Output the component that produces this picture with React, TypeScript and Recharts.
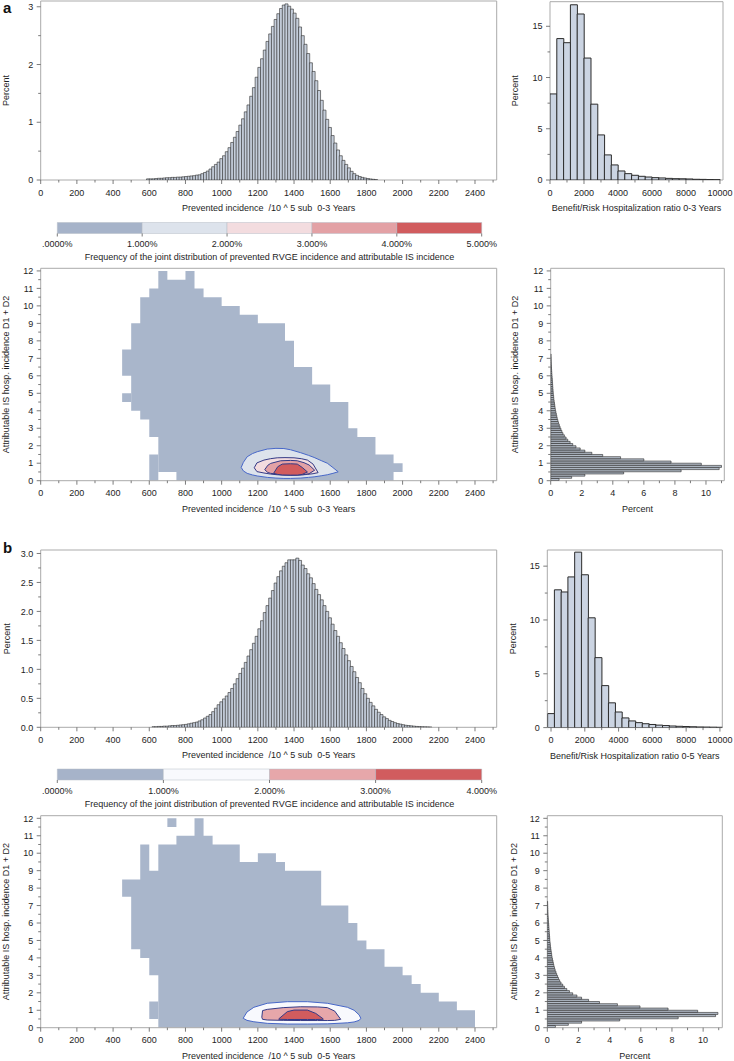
import React from 'react';
import { BarChart, Bar, ComposedChart, Area, XAxis, YAxis, ReferenceArea } from 'recharts';

const FONT = '"Liberation Sans", Arial, Helvetica, sans-serif';
const TXT: any = { fontFamily: FONT, fontSize: 9, fill: '#1e1e1e' };
const TICK_C = '#5a5a5a';
const FRAME_C = '#ababab';

// ---------------- DATA ----------------
// Prevented incidence histograms (bin width 15)
const INC_BIN = 15;
const INC_A_START = 585;
const INC_A_VALUES = [
  0.02, 0.02, 0.02, 0.025, 0.03, 0.03, 0.035, 0.04, 0.04, 0.045,
  0.045, 0.05, 0.05, 0.055, 0.06, 0.065, 0.07, 0.075, 0.085, 0.09,
  0.11, 0.13, 0.155, 0.19, 0.23, 0.27, 0.31, 0.37, 0.42, 0.49,
  0.56, 0.65, 0.74, 0.84, 0.95, 1.06, 1.18, 1.30, 1.45, 1.60,
  1.78, 1.95, 2.10, 2.25, 2.40, 2.53, 2.66, 2.78, 2.88, 2.97,
  3.03, 3.05, 3.01, 2.96, 2.89, 2.80, 2.65, 2.50, 2.35, 2.19,
  2.03, 1.88, 1.72, 1.55, 1.38, 1.21, 1.05, 0.91, 0.77, 0.64,
  0.52, 0.42, 0.34, 0.27, 0.21, 0.15, 0.11, 0.08, 0.06, 0.045,
  0.035, 0.025, 0.018, 0.012, 0.006,
];
const INC_B_START = 615;
const INC_B_VALUES = [
  0.01, 0.01, 0.015, 0.015, 0.02, 0.02, 0.025, 0.03, 0.03, 0.035,
  0.04, 0.045, 0.05, 0.06, 0.07, 0.08, 0.09, 0.11, 0.13, 0.16,
  0.19, 0.22, 0.27, 0.33, 0.39, 0.44, 0.49, 0.54, 0.6, 0.67,
  0.75, 0.84, 0.93, 1.02, 1.12, 1.23, 1.34, 1.45, 1.57, 1.7,
  1.84, 1.98, 2.1, 2.23, 2.36, 2.49, 2.6, 2.7, 2.78, 2.84,
  2.89, 2.89, 2.89, 2.92, 2.88, 2.8, 2.74, 2.65, 2.58, 2.48,
  2.38, 2.29, 2.2, 2.1, 2.0, 1.89, 1.78, 1.67, 1.57, 1.46,
  1.36, 1.25, 1.15, 1.05, 0.96, 0.86, 0.77, 0.67, 0.58, 0.5,
  0.43, 0.37, 0.31, 0.26, 0.22, 0.18, 0.15, 0.12, 0.1, 0.08,
  0.065, 0.055, 0.045, 0.035, 0.03, 0.025, 0.02, 0.015, 0.012, 0.01,
  0.008, 0.006, 0.004,
];

// Benefit/Risk ratio histograms (bin width 400)
const BR_BIN = 400;
const BR_A_FIRST_CENTER = 200;
const BR_A_VALUES = [8.4, 13.8, 13.4, 17.1, 16.2, 11.9, 7.4, 4.4, 2.45, 1.47, 0.88, 0.62, 0.46, 0.36, 0.29, 0.23, 0.2, 0.16, 0.13, 0.12, 0.1, 0.07, 0.06, 0.04, 0.03];
const BR_B_FIRST_CENTER = 0;
const BR_B_VALUES = [1.3, 12.8, 12.6, 14.0, 16.3, 14.2, 10.2, 6.5, 3.9, 2.3, 1.45, 0.9, 0.62, 0.46, 0.36, 0.29, 0.23, 0.19, 0.15, 0.12, 0.1, 0.08, 0.06, 0.05, 0.04, 0.03];

// Attributable IS incidence histograms (bin width 0.125)
const IS_BIN = 0.125;
const IS_A_VALUES = [
  0.54, 1.35, 2.2, 4.7, 8.4, 10.85, 11.0, 9.7, 7.75, 6.0,
  4.5, 3.35, 2.65, 2.2, 1.9, 1.63, 1.42, 1.25, 1.1, 0.99,
  0.88, 0.79, 0.72, 0.66, 0.6, 0.55, 0.5, 0.46, 0.42, 0.39,
  0.36, 0.33, 0.3, 0.28, 0.26, 0.24, 0.22, 0.2, 0.19, 0.17,
  0.16, 0.15, 0.14, 0.13, 0.12, 0.11, 0.1, 0.09, 0.08, 0.07,
  0.06, 0.05, 0.045, 0.04, 0.035, 0.03, 0.025, 0.02,
];
const IS_B_VALUES = [
  0.52, 1.35, 2.2, 4.65, 8.4, 10.8, 10.95, 9.65, 7.75, 5.95,
  4.5, 3.35, 2.65, 2.2, 1.9, 1.63, 1.42, 1.25, 1.1, 0.99,
  0.88, 0.79, 0.72, 0.66, 0.6, 0.55, 0.5, 0.46, 0.42, 0.39,
  0.36, 0.33, 0.3, 0.28, 0.26, 0.24, 0.22, 0.2, 0.19, 0.17,
  0.16, 0.15, 0.14, 0.13, 0.12, 0.11, 0.1, 0.09, 0.08, 0.07,
  0.06, 0.05, 0.045, 0.04, 0.035, 0.03, 0.025, 0.02,
];

// Joint-distribution support (columns of width 50 starting at 450), two vertical segments per column
const HEAT_BIN = 50;
const HEAT_START = 450;
const HEAT_A_LO1 = [6, 4, 3.5, 2.5, 0.5, 0.5, 0, 0, 0, 0, 0, 0, 0, 0, 0, 0, 0, 0, 0, 0, 0, 0, 0, 0, 0, 0, 0, 0, 0, 0, 0.5];
const HEAT_A_HI1 = [7.5, 9, 10.5, 11, 12, 11.5, 11.5, 12, 11, 10.5, 10.5, 10, 10, 9.5, 9.5, 9, 9, 9, 8, 6.5, 6.5, 5.5, 5.5, 4.5, 4.5, 3, 2.5, 2.5, 1.5, 1.5, 1];
const HEAT_A_LO2 = [4.5, null, null, 0, null, null, null, null, null, null, null, null, null, null, null, null, null, null, null, null, null, null, null, null, null, null, null, null, null, null, null];
const HEAT_A_HI2 = [5, null, null, 1.5, null, null, null, null, null, null, null, null, null, null, null, null, null, null, null, null, null, null, null, null, null, null, null, null, null, null, null];

const HEAT_B_LO1 = [7.5, 4.5, 4, 3, 0, 0, 0, 0, 0, 0, 0, 0, 0, 0, 0, 0, 0, 0, 0, 0, 0, 0, 0, 0, 0, 0, 0, 0, 0, 0, 0, 0, 0, 0, 0, 0, 0, 0, 0];
const HEAT_B_HI1 = [8.5, 8.5, 10.5, 9, 10.5, 10.5, 11, 11, 12, 11, 10.5, 10.5, 10.5, 9.5, 9.5, 10, 10, 9.5, 9, 9, 9, 9, 7, 7, 7, 6, 5, 4.5, 4.5, 3.5, 3.5, 3, 2.5, 2, 2, 1.5, 1.5, 1, 1];
const HEAT_B_LO2 = [null, null, null, 0.5, null, 11.5, null, null, null, null, null, null, null, null, null, null, null, null, null, null, null, null, null, null, null, null, null, null, null, null, null, null, null, null, null, null, null, null, null];
const HEAT_B_HI2 = [null, null, null, 1.5, null, 12, null, null, null, null, null, null, null, null, null, null, null, null, null, null, null, null, null, null, null, null, null, null, null, null, null, null, null, null, null, null, null, null, null];

// Contour levels (x, lower edge, upper edge)
const CA1_X = [1108, 1120, 1141, 1170, 1197, 1252, 1300, 1344, 1381, 1437, 1480, 1511, 1550, 1584, 1615, 1644];
const CA1_LO = [0.76, 0.56, 0.42, 0.33, 0.27, 0.19, 0.15, 0.13, 0.13, 0.15, 0.19, 0.22, 0.28, 0.34, 0.42, 0.51];
const CA1_HI = [0.76, 1.05, 1.37, 1.55, 1.66, 1.81, 1.85, 1.84, 1.77, 1.6, 1.45, 1.33, 1.15, 1.0, 0.75, 0.51];
const CA2_X = [1180, 1195, 1234, 1270, 1307, 1350, 1400, 1440, 1474, 1505, 1533];
const CA2_LO = [0.74, 0.52, 0.44, 0.38, 0.34, 0.32, 0.32, 0.33, 0.36, 0.4, 0.46];
const CA2_HI = [0.74, 1.02, 1.18, 1.26, 1.31, 1.32, 1.31, 1.26, 1.18, 0.95, 0.46];
const CA3_X = [1238, 1255, 1271, 1326, 1381, 1418, 1455, 1483, 1514];
const CA3_LO = [0.63, 0.47, 0.42, 0.35, 0.32, 0.33, 0.35, 0.4, 0.6];
const CA3_HI = [0.63, 0.88, 0.99, 1.14, 1.16, 1.14, 1.03, 0.9, 0.6];
const CA4_X = [1287, 1310, 1335, 1380, 1418, 1445, 1474];
const CA4_LO = [0.42, 0.36, 0.33, 0.32, 0.32, 0.36, 0.5];
const CA4_HI = [0.42, 0.8, 0.95, 0.97, 0.95, 0.76, 0.5];

const CB1_X = [1119, 1140, 1178, 1252, 1363, 1474, 1584, 1695, 1732, 1760, 1769];
const CB1_LO = [0.54, 0.42, 0.34, 0.25, 0.21, 0.21, 0.22, 0.28, 0.33, 0.42, 0.54];
const CB1_HI = [0.54, 0.9, 1.17, 1.4, 1.49, 1.49, 1.4, 1.17, 1.0, 0.73, 0.54];
const CB2_X = [1222, 1226, 1252, 1340, 1437, 1530, 1584, 1625, 1658];
const CB2_LO = [0.6, 0.48, 0.44, 0.42, 0.41, 0.41, 0.41, 0.42, 0.48];
const CB2_HI = [0.6, 0.98, 1.05, 1.15, 1.2, 1.19, 1.15, 0.95, 0.48];
const CB3_X = [1315, 1363, 1400, 1474, 1520, 1562];
const CB3_LO = [0.48, 0.47, 0.47, 0.47, 0.47, 0.48];
const CB3_HI = [0.5, 0.92, 1.01, 1.01, 0.82, 0.5];

// Colour legends
const LEG_A_BOUNDS = [0, 1, 2, 3, 4, 5];
const LEG_A_LABELS = ['.0000%', '1.000%', '2.000%', '3.000%', '4.000%', '5.000%'];
const LEG_A_COLORS = ['#a6b3c9', '#dde3ec', '#f3dcdf', '#e3a1a5', '#d15c5e'];
const LEG_B_BOUNDS = [0, 1, 2, 3, 4];
const LEG_B_LABELS = ['.0000%', '1.000%', '2.000%', '3.000%', '4.000%'];
const LEG_B_COLORS = ['#a6b3c9', '#f8f9fd', '#e6a7aa', '#d15c5e'];

const HEAT_FILL = '#a9b6cb';
const OUTER_LINE = '#4767c8';
const INNER_LINE = '#343a86';

const TITLE_INC_A = 'Prevented incidence  /10 ^ 5 sub  0-3 Years';
const TITLE_INC_B = 'Prevented incidence  /10 ^ 5 sub  0-5 Years';
const TITLE_BR_A = 'Benefit/Risk Hospitalization ratio 0-3 Years';
const TITLE_BR_B = 'Benefit/Risk Hospitalization ratio 0-5 Years';
const TITLE_FREQ = 'Frequency of the joint distribution of prevented RVGE incidence and attributable IS incidence';
const TITLE_IS = 'Attributable IS hosp. incidence D1 + D2';
const TITLE_PCT = 'Percent';

// ---------------- HELPERS ----------------
const seq = (a: number, b: number, s: number) => {
  const out: number[] = [];
  for (let i = 0; a + i * s <= b + 1e-9; i++) out.push(Math.round((a + i * s) * 1e6) / 1e6);
  return out;
};
const isMult = (v: number, step: number) => Math.abs(v / step - Math.round(v / step)) < 1e-6;

const histRows = (start: number, width: number, values: number[]) =>
  values.map((v, i) => ({ x: start + width * (i + 0.5), y: v }));
const centerRows = (first: number, width: number, values: number[]) =>
  values.map((v, i) => ({ x: first + width * i, y: v }));

const stepRows = (lo: (number | null)[], hi: (number | null)[]) => {
  const rows: any[] = [];
  for (let i = 0; i < lo.length; i++) {
    const s = HEAT_START + HEAT_BIN * i;
    const def = lo[i] != null && hi[i] != null;
    rows.push({ x: s, v: def ? [lo[i], hi[i]] : null });
    const nextDef = i + 1 < lo.length && lo[i + 1] != null;
    if (def && !nextDef) rows.push({ x: s + HEAT_BIN, v: [lo[i], hi[i]] });
  }
  return rows;
};
const contourRows = (xs: number[], lo: number[], hi: number[]) => xs.map((x, i) => ({ x, v: [lo[i], hi[i]] }));

const bottomTick = (step: number, fmt: (v: number) => string = (v) => String(v)) => (p: any) => {
  const v = Number(p.payload.value);
  const major = isMult(v, step);
  return (
    <g>
      <line x1={p.x} x2={p.x} y1={p.y} y2={p.y + (major ? 4 : 2.5)} stroke={TICK_C} strokeWidth={0.8} />
      {major && (
        <text x={p.x} y={p.y + 15.5} textAnchor="middle" {...TXT}>
          {fmt(v)}
        </text>
      )}
    </g>
  );
};
const leftTick = (step: number, fmt: (v: number) => string = (v) => String(v)) => (p: any) => {
  const v = Number(p.payload.value);
  const major = isMult(v, step);
  return (
    <g>
      <line x1={p.x - (major ? 4 : 2.5)} x2={p.x} y1={p.y} y2={p.y} stroke={TICK_C} strokeWidth={0.8} />
      {major && (
        <text x={p.x - 7.5} y={p.y + 3.2} textAnchor="end" {...TXT}>
          {fmt(v)}
        </text>
      )}
    </g>
  );
};
const legendTick = (labels: string[]) => (p: any) => {
  const i = Math.round(Number(p.payload.value));
  return (
    <g>
      <line x1={p.x} x2={p.x} y1={p.y} y2={p.y + 3} stroke={TICK_C} strokeWidth={0.8} />
      <text x={p.x} y={p.y + 13.5} textAnchor="middle" {...TXT}>
        {labels[i]}
      </text>
    </g>
  );
};
const xTitle = (text: string, dy: number) => (p: any) => {
  const vb = p.viewBox || {};
  return (
    <text x={(vb.x ?? 0) + (vb.width ?? 0) / 2} y={(vb.y ?? 0) + dy} textAnchor="middle" {...TXT} style={{ whiteSpace: 'pre' }}>
      {text}
    </text>
  );
};
const yTitle = (text: string, cx: number) => (p: any) => {
  const vb = p.viewBox || {};
  const cy = (vb.y ?? 0) + (vb.height ?? 0) / 2;
  return (
    <text transform={`translate(${cx},${cy}) rotate(-90)`} textAnchor="middle" dominantBaseline="central" {...TXT}>
      {text}
    </text>
  );
};

type Box = { left: number; top: number; width: number; height: number; mt: number; mr: number; ml?: number; yW: number; xH: number };
const boxStyle = (b: Box): React.CSSProperties => ({ position: 'absolute', left: b.left, top: b.top, width: b.width, height: b.height });

// ---------------- LAYOUT ----------------
const INC_DOMAIN = [0, 2520];
const HEAT_Y_DOMAIN = [0, 12.15];
const A1: Box = { left: 0, top: 0, width: 500, height: 215, mt: 1, mr: 3.3, yW: 40.7, xH: 35 };
const A2: Box = { left: 490, top: 0, width: 244, height: 215, mt: 1.7, mr: 11, yW: 60, xH: 35 };
const LA: Box = { left: 0, top: 214, width: 500, height: 50, mt: 8.5, mr: 18.3, ml: 57.3, yW: 0, xH: 30.5 };
const A4: Box = { left: 0, top: 262, width: 500, height: 262, mt: 6.3, mr: 3.3, yW: 40.7, xH: 43.3 };
const A5: Box = { left: 490, top: 262, width: 244, height: 262, mt: 6.3, mr: 9.7, yW: 60.7, xH: 43.3 };
const B1: Box = { left: 0, top: 540, width: 500, height: 225, mt: 10, mr: 3.3, yW: 40.7, xH: 37.7 };
const B2: Box = { left: 490, top: 540, width: 244, height: 225, mt: 10, mr: 11.7, yW: 57.3, xH: 37.4 };
const LB: Box = { left: 0, top: 760, width: 500, height: 50, mt: 9, mr: 18.3, ml: 57.3, yW: 0, xH: 30 };
const B4: Box = { left: 0, top: 810, width: 500, height: 251, mt: 5.7, mr: 3.3, yW: 40.7, xH: 33.3 };
const B5: Box = { left: 490, top: 810, width: 244, height: 251, mt: 5.7, mr: 11.7, yW: 57.3, xH: 33.3 };

// ---------------- CHARTS ----------------
function VHist(props: {
  box: Box; rows: any[]; xDomain: number[]; yDomain: number[]; xTicks: number[]; xStep: number;
  yTicks: number[]; yStep: number; yFmt?: (v: number) => string; xTitleText: string; yTitleX: number; strokeW: number; fill: string;
}) {
  const b = props.box;
  return (
    <div style={boxStyle(b)}>
      <BarChart width={b.width} height={b.height} data={props.rows} margin={{ top: b.mt, right: b.mr, left: 0, bottom: 0 }} barCategoryGap={0} barGap={0}>
        <XAxis type="number" dataKey="x" domain={props.xDomain} allowDataOverflow ticks={props.xTicks} interval={0}
          height={b.xH} axisLine={false} tickLine={false} tickSize={0} tickMargin={0}
          tick={bottomTick(props.xStep)} label={xTitle(props.xTitleText, 31)} />
        <YAxis type="number" domain={props.yDomain} allowDataOverflow ticks={props.yTicks} interval={0}
          width={b.yW} axisLine={false} tickLine={false} tickSize={0} tickMargin={0}
          tick={leftTick(props.yStep, props.yFmt)} label={yTitle(TITLE_PCT, props.yTitleX)} />
        <Bar dataKey="y" fill={props.fill} stroke="#2b2b2b" strokeWidth={props.strokeW} isAnimationActive={false} />
        <ReferenceArea x1={props.xDomain[0]} x2={props.xDomain[1]} y1={props.yDomain[0]} y2={props.yDomain[1]} fill="none" stroke={FRAME_C} strokeWidth={1} ifOverflow="visible" />
      </BarChart>
    </div>
  );
}

function HHist(props: { box: Box; values: number[]; xDomain: number[]; yTitleX: number }) {
  const b = props.box;
  const rows = props.values.map((v, i) => ({ y: IS_BIN * (i + 0.5), p: v }));
  return (
    <div style={boxStyle(b)}>
      <BarChart layout="vertical" width={b.width} height={b.height} data={rows} margin={{ top: b.mt, right: b.mr, left: 0, bottom: 0 }} barCategoryGap={0} barGap={0}>
        <XAxis type="number" domain={props.xDomain} allowDataOverflow ticks={seq(0, 11, 1)} interval={0}
          height={b.xH} axisLine={false} tickLine={false} tickSize={0} tickMargin={0}
          tick={bottomTick(2)} label={xTitle(TITLE_PCT, 31.5)} />
        <YAxis type="number" dataKey="y" reversed domain={HEAT_Y_DOMAIN} allowDataOverflow ticks={seq(0, 12, 0.5)} interval={0}
          width={b.yW} axisLine={false} tickLine={false} tickSize={0} tickMargin={0}
          tick={leftTick(1)} label={yTitle(TITLE_IS, props.yTitleX)} />
        <Bar dataKey="p" fill="#b4bdc9" stroke="#262626" strokeWidth={0.6} isAnimationActive={false} />
        <ReferenceArea x1={props.xDomain[0]} x2={props.xDomain[1]} y1={HEAT_Y_DOMAIN[0]} y2={HEAT_Y_DOMAIN[1]} fill="none" stroke={FRAME_C} strokeWidth={1} ifOverflow="visible" />
      </BarChart>
    </div>
  );
}

function ColorBar(props: { box: Box; bounds: number[]; labels: string[]; colors: string[] }) {
  const b = props.box;
  const row: any = { k: 'freq' };
  props.colors.forEach((_, i) => { row['s' + i] = props.bounds[i + 1] - props.bounds[i]; });
  const maxV = props.bounds[props.bounds.length - 1];
  return (
    <div style={boxStyle(b)}>
      <BarChart layout="vertical" width={b.width} height={b.height} data={[row]} margin={{ top: b.mt, right: b.mr, left: b.ml ?? 0, bottom: 0 }} barCategoryGap={0} barGap={0}>
        <XAxis type="number" domain={[0, maxV]} ticks={props.bounds} interval={0} height={b.xH}
          axisLine={false} tickLine={false} tickSize={0} tickMargin={0}
          tick={legendTick(props.labels)} label={xTitle(TITLE_FREQ, 26.5)} />
        <YAxis type="category" dataKey="k" hide />
        {props.colors.map((c, i) => (
          <Bar key={i} dataKey={'s' + i} stackId="lv" fill={c} stroke="#b7bcc6" strokeWidth={0.5} isAnimationActive={false} />
        ))}
      </BarChart>
    </div>
  );
}

function Heat(props: {
  box: Box; seg1: any[]; seg2: any[]; contours: { rows: any[]; fill: string; line: string }[]; xTitleText: string; yTitleX: number;
}) {
  const b = props.box;
  return (
    <div style={boxStyle(b)}>
      <ComposedChart width={b.width} height={b.height} margin={{ top: b.mt, right: b.mr, left: 0, bottom: 0 }}>
        <XAxis type="number" dataKey="x" domain={INC_DOMAIN} allowDataOverflow ticks={seq(0, 2500, 100)} interval={0}
          height={b.xH} axisLine={false} tickLine={false} tickSize={0} tickMargin={0}
          tick={bottomTick(200)} label={xTitle(props.xTitleText, 31.5)} />
        <YAxis type="number" domain={HEAT_Y_DOMAIN} allowDataOverflow ticks={seq(0, 12, 0.5)} interval={0}
          width={b.yW} axisLine={false} tickLine={false} tickSize={0} tickMargin={0}
          tick={leftTick(1)} label={yTitle(TITLE_IS, props.yTitleX)} />
        <Area data={props.seg1} dataKey="v" type="stepAfter" fill={HEAT_FILL} fillOpacity={1} stroke="none" dot={false} activeDot={false} isAnimationActive={false} />
        <Area data={props.seg2} dataKey="v" type="stepAfter" fill={HEAT_FILL} fillOpacity={1} stroke="none" dot={false} activeDot={false} isAnimationActive={false} />
        {props.contours.map((c, i) => (
          <Area key={i} data={c.rows} dataKey="v" type="linear" fill={c.fill} fillOpacity={1} stroke={c.line} strokeWidth={1} dot={false} activeDot={false} isAnimationActive={false} />
        ))}
        <ReferenceArea x1={INC_DOMAIN[0]} x2={INC_DOMAIN[1]} y1={HEAT_Y_DOMAIN[0]} y2={HEAT_Y_DOMAIN[1]} fill="none" stroke={FRAME_C} strokeWidth={1} ifOverflow="visible" />
      </ComposedChart>
    </div>
  );
}

export default function App() {
  const contoursA = [
    { rows: contourRows(CA1_X, CA1_LO, CA1_HI), fill: LEG_A_COLORS[1], line: OUTER_LINE },
    { rows: contourRows(CA2_X, CA2_LO, CA2_HI), fill: LEG_A_COLORS[2], line: INNER_LINE },
    { rows: contourRows(CA3_X, CA3_LO, CA3_HI), fill: LEG_A_COLORS[3], line: INNER_LINE },
    { rows: contourRows(CA4_X, CA4_LO, CA4_HI), fill: LEG_A_COLORS[4], line: INNER_LINE },
  ];
  const contoursB = [
    { rows: contourRows(CB1_X, CB1_LO, CB1_HI), fill: LEG_B_COLORS[1], line: OUTER_LINE },
    { rows: contourRows(CB2_X, CB2_LO, CB2_HI), fill: LEG_B_COLORS[2], line: INNER_LINE },
    { rows: contourRows(CB3_X, CB3_LO, CB3_HI), fill: LEG_B_COLORS[3], line: INNER_LINE },
  ];
  return (
    <div style={{ position: 'absolute', left: 0, top: 0, width: 734, height: 1061, background: '#fff', overflow: 'hidden' }}>
      <div style={{ position: 'absolute', left: 3, top: 0, font: `bold 15px ${FONT}`, lineHeight: '15px', color: '#111' }}>a</div>
      <div style={{ position: 'absolute', left: 3, top: 540, font: `bold 15px ${FONT}`, lineHeight: '15px', color: '#111' }}>b</div>

      <VHist box={A1} rows={histRows(INC_A_START, INC_BIN, INC_A_VALUES)} xDomain={INC_DOMAIN} yDomain={[0, 3.1]}
        xTicks={seq(0, 2500, 100)} xStep={200} yTicks={seq(0, 3, 0.5)} yStep={1}
        xTitleText={TITLE_INC_A} yTitleX={6.2} strokeW={0.6} fill="#c5cedb" />
      <VHist box={A2} rows={centerRows(BR_A_FIRST_CENTER, BR_BIN, BR_A_VALUES)} xDomain={[0, 10180]} yDomain={[0, 17.4]}
        xTicks={seq(0, 10000, 1000)} xStep={2000} yTicks={seq(0, 15, 2.5)} yStep={5}
        xTitleText={TITLE_BR_A} yTitleX={25} strokeW={1} fill="#cbd4e2" />
      <ColorBar box={LA} bounds={LEG_A_BOUNDS} labels={LEG_A_LABELS} colors={LEG_A_COLORS} />
      <Heat box={A4} seg1={stepRows(HEAT_A_LO1, HEAT_A_HI1)} seg2={stepRows(HEAT_A_LO2, HEAT_A_HI2)} contours={contoursA}
        xTitleText={TITLE_INC_A} yTitleX={6.3} />
      <HHist box={A5} values={IS_A_VALUES} xDomain={[0, 11.18]} yTitleX={25} />

      <VHist box={B1} rows={histRows(INC_B_START, INC_BIN, INC_B_VALUES)} xDomain={INC_DOMAIN} yDomain={[0, 3.06]}
        xTicks={seq(0, 2500, 100)} xStep={200} yTicks={seq(0, 3, 0.25)} yStep={0.5} yFmt={(v) => v.toFixed(1)}
        xTitleText={TITLE_INC_B} yTitleX={7} strokeW={0.6} fill="#c5cedb" />
      <VHist box={B2} rows={centerRows(BR_B_FIRST_CENTER, BR_BIN, BR_B_VALUES)} xDomain={[-220, 10140]} yDomain={[0, 16.5]}
        xTicks={seq(0, 10000, 1000)} xStep={2000} yTicks={seq(0, 15, 2.5)} yStep={5}
        xTitleText={TITLE_BR_B} yTitleX={23.3} strokeW={1} fill="#cbd4e2" />
      <ColorBar box={LB} bounds={LEG_B_BOUNDS} labels={LEG_B_LABELS} colors={LEG_B_COLORS} />
      <Heat box={B4} seg1={stepRows(HEAT_B_LO1, HEAT_B_HI1)} seg2={stepRows(HEAT_B_LO2, HEAT_B_HI2)} contours={contoursB}
        xTitleText={TITLE_INC_B} yTitleX={6.3} />
      <HHist box={B5} values={IS_B_VALUES} xDomain={[0, 11.23]} yTitleX={24} />
    </div>
  );
}
